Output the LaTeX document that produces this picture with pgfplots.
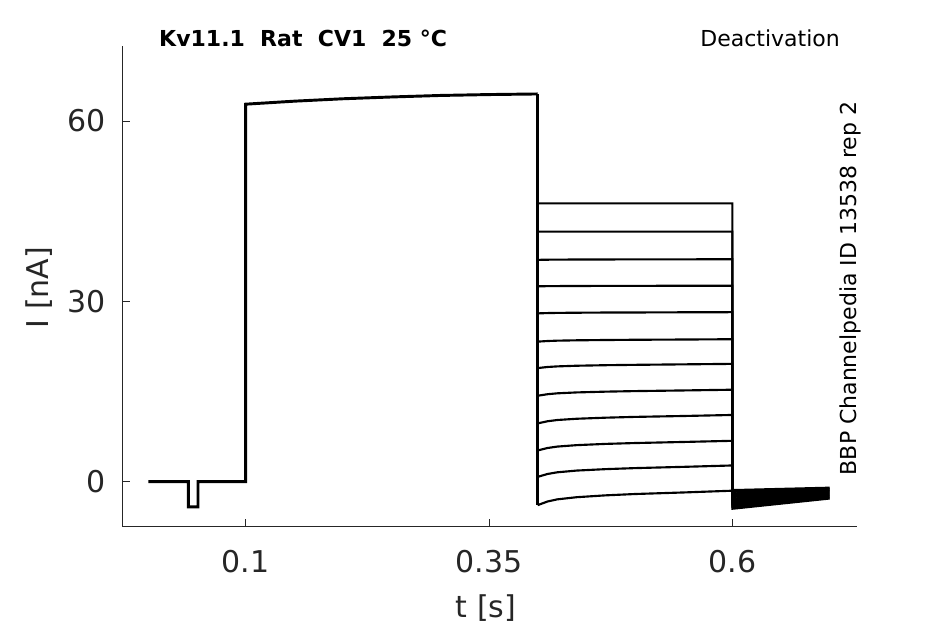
\documentclass[border=0pt]{standalone}
\usepackage{fontspec}
\setmainfont{DejaVu Sans}
\usepackage{pgfplots}
\pgfplotsset{compat=1.18}
\definecolor{axgray}{HTML}{262626}
\begin{document}
\begin{tikzpicture}
\path[use as bounding box] (-91.725pt,-73.5pt) rectangle (617.025pt,394.5pt);
\begin{axis}[
 at={(0pt,0pt)}, anchor=south west,
 scale only axis, width=550.8pt, height=360pt,
 xmin=-0.0268, xmax=0.7278, ymin=-7.37, ymax=72.48,
 axis x line*=bottom, axis y line*=left,
 axis line style={axgray, line width=0.6pt},
 xtick={0.1,0.35,0.6}, ytick={0,30,60},
 xticklabels={0.1,0.35,0.6},
 yticklabels={0,30,60},
 tick align=inside, major tick length=5.5pt,
 tick style={axgray, line width=0.6pt},
 ticklabel style={font=\fontsize{22.5}{26}\selectfont, text=axgray},
 xticklabel style={anchor=base, inner sep=0pt, yshift=-34.5pt},
 yticklabel style={anchor=east, inner sep=0pt, xshift=-12pt},
 /pgf/number format/assume math mode=true,
 clip=false,
]
% common part
\addplot[black, line width=2.2pt] coordinates {(0,0) (0.041,0) (0.041,-4.2) (0.051,-4.2) (0.051,0) (0.1,0) (0.1,62.8) (0.15,63.3) (0.2,63.7) (0.25,64.0) (0.3,64.25) (0.35,64.4) (0.4,64.5)};
\addplot[black, line width=2.2pt] coordinates {(0.4,64.5) (0.4,-3.9)};
% deactivation traces
\addplot[black, line width=1.6pt] coordinates {(0.4,46.3) (0.41,46.3) (0.42,46.3) (0.44,46.3) (0.47,46.3) (0.5,46.3) (0.55,46.3) (0.6,46.3) (0.6,-1.40) (0.7,-1.00)};
\addplot[black, line width=1.6pt] coordinates {(0.4,41.6) (0.41,41.6) (0.42,41.6) (0.44,41.6) (0.47,41.6) (0.5,41.6) (0.55,41.6) (0.6,41.6) (0.6,-1.68) (0.7,-1.16)};
\addplot[black, line width=1.6pt] coordinates {(0.4,36.9) (0.41,36.93) (0.42,36.94) (0.44,36.96) (0.47,36.97) (0.5,36.98) (0.55,36.99) (0.6,37.0) (0.6,-1.96) (0.7,-1.33)};
\addplot[black, line width=1.6pt] coordinates {(0.4,32.5) (0.41,32.53) (0.42,32.54) (0.44,32.56) (0.47,32.57) (0.5,32.58) (0.55,32.59) (0.6,32.6) (0.6,-2.25) (0.7,-1.49)};
\addplot[black, line width=1.6pt] coordinates {(0.4,28.0) (0.41,28.05) (0.42,28.08) (0.44,28.11) (0.47,28.14) (0.5,28.15) (0.55,28.18) (0.6,28.2) (0.6,-2.53) (0.7,-1.65)};
\addplot[black, line width=1.6pt] coordinates {(0.4,23.3) (0.41,23.40) (0.42,23.46) (0.44,23.52) (0.47,23.57) (0.5,23.61) (0.55,23.65) (0.6,23.7) (0.6,-2.81) (0.7,-1.82)};
\addplot[black, line width=1.6pt] coordinates {(0.4,18.9) (0.41,19.08) (0.42,19.18) (0.44,19.29) (0.47,19.38) (0.5,19.44) (0.55,19.52) (0.6,19.6) (0.6,-3.09) (0.7,-1.98)};
\addplot[black, line width=1.6pt] coordinates {(0.4,14.3) (0.41,14.55) (0.42,14.70) (0.44,14.85) (0.47,14.98) (0.5,15.07) (0.55,15.18) (0.6,15.3) (0.6,-3.37) (0.7,-2.15)};
\addplot[black, line width=1.6pt] coordinates {(0.4,9.7) (0.41,10.05) (0.42,10.26) (0.44,10.47) (0.47,10.65) (0.5,10.78) (0.55,10.93) (0.6,11.1) (0.6,-3.65) (0.7,-2.31)};
\addplot[black, line width=1.6pt] coordinates {(0.4,5.2) (0.41,5.60) (0.42,5.84) (0.44,6.08) (0.47,6.29) (0.5,6.43) (0.55,6.61) (0.6,6.8) (0.6,-3.94) (0.7,-2.47)};
\addplot[black, line width=1.6pt] coordinates {(0.4,0.8) (0.41,1.28) (0.42,1.56) (0.44,1.85) (0.47,2.09) (0.5,2.26) (0.55,2.47) (0.6,2.7) (0.6,-4.22) (0.7,-2.64)};
\addplot[black, line width=1.6pt] coordinates {(0.4,-3.9) (0.41,-3.30) (0.42,-2.94) (0.44,-2.58) (0.47,-2.27) (0.5,-2.05) (0.55,-1.79) (0.6,-1.5) (0.6,-4.50) (0.7,-2.80)};
\end{axis}
% texts
\node[anchor=base west, inner sep=0pt, font=\fontsize{16.5}{19}\selectfont\bfseries] at (27.5pt,359.25pt) {Kv11.1\ \ Rat\ \ CV1\ \ 25 °C};
\node[anchor=base east, inner sep=0pt, font=\fontsize{16.5}{19}\selectfont] at (538.3pt,359.25pt) {Deactivation};
\node[anchor=base, rotate=90, inner sep=0pt, font=\fontsize{16.5}{19}\selectfont] at (550.8pt,178.1pt) {BBP Channelpedia ID 13538 rep 2};
\node[anchor=base, rotate=90, inner sep=0pt, text=axgray, font=\fontsize{22.5}{26}\selectfont] at (-55.7pt,178.9pt) {I [nA]};
\node[anchor=base, inner sep=0pt, text=axgray, font=\fontsize{22.5}{26}\selectfont] at (272.8pt,-68.25pt) {t [s]};
\end{tikzpicture}
\end{document}
